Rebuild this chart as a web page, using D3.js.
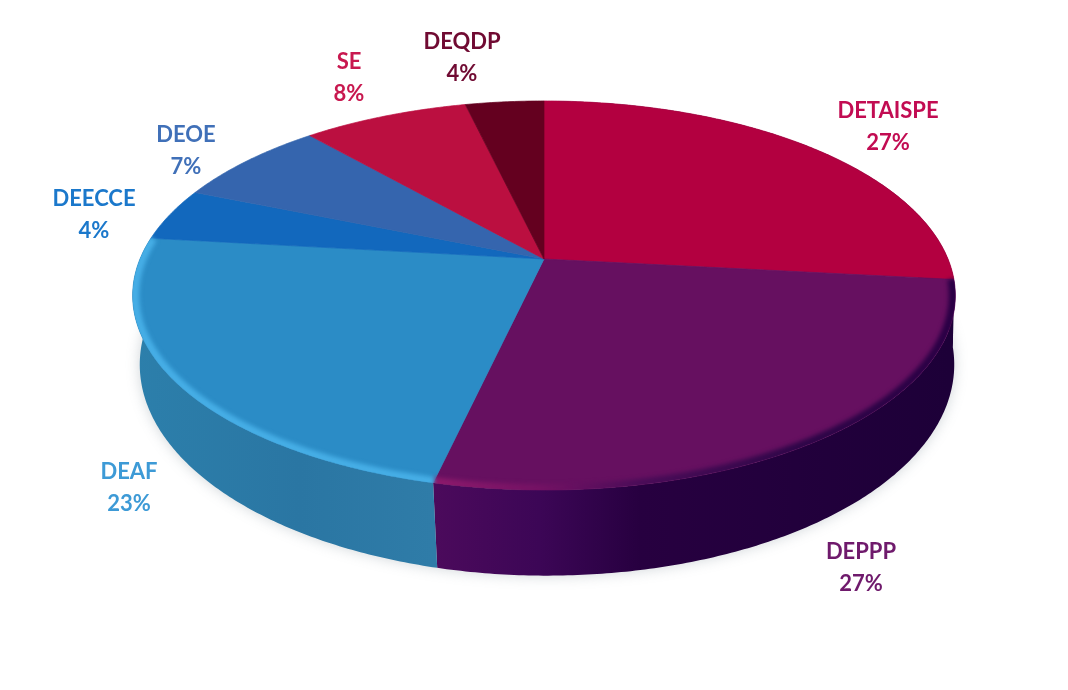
<!DOCTYPE html>
<html>
<head>
<meta charset="utf-8">
<script src="https://cdn.jsdelivr.net/npm/d3@7"></script>
<style>
  html, body { margin: 0; padding: 0; background: #fff; }
  svg { display: block; }
  text { font-family: Lato, "Open Sans", sans-serif; font-weight: 700; font-size: 22px; text-anchor: middle; }
</style>
</head>
<body>
<div id="chart"></div>
<script>
document.addEventListener("DOMContentLoaded", function() {
    // Data (printed labels are these rounded)
    var categories = ["DETAISPE", "DEPPP", "DEAF", "DEECCE", "DEOE", "SE", "DEQDP"];
    var values = [26.7, 26.9, 23.2, 4.4, 7.3, 7.8, 3.7];

    // Colours per slice
    var topColors = ["#b30040", "#661060", "#2b8cc6", "#1268bd", "#3565ae", "#bb0f40", "#64001f"];
    var labelColors = ["#c20c52", "#6f1a6c", "#3d9ad6", "#1b78cb", "#4070b8", "#c8184f", "#700a32"];

    // Label centres, first line
    var labelX = [888, 861, 129, 94, 186, 349, 462];
    var labelY = [110, 551, 471, 198, 134, 61, 41];

    var w = 1068;
    var h = 690;

    // Tilted disc: perspective projection of a unit circle
    var k = 0.1877;
    var topFace = { cx: 544, cy: 259, a: 404, b: 187.7 };
    var baseFace = { cx: 547, cy: 325, a: 400, b: 203.6 };

    function project(face, angle, r) {
        var X = r * Math.sin(angle);
        var Y = -r * Math.cos(angle);
        var d = 1 - k * Y;
        return [face.cx + face.a * X / d, face.cy + face.b * Y / d];
    }

    function rimPoints(face, a0, a1, r) {
        var n = Math.max(2, Math.ceil((a1 - a0) / 0.01));
        return d3.range(n + 1).map(function(i) {
            return project(face, a0 + (a1 - a0) * i / n, r);
        });
    }

    var line = d3.line();

    var pie = d3.pie().sort(null);
    var arcs = pie(values);
    var pct = d3.format(".0f");

    var svg = d3.select("#chart")
        .append("svg")
        .attr("width", w)
        .attr("height", h);

    var defs = svg.append("defs");

    function addBlur(id, sd) {
        defs.append("filter")
            .attr("id", id)
            .attr("x", "-20%").attr("y", "-20%")
            .attr("width", "140%").attr("height", "140%")
            .attr("color-interpolation-filters", "sRGB")
            .append("feGaussianBlur")
            .attr("stdDeviation", sd);
    }
    addBlur("scan", 0.55);
    addBlur("soft", 2);
    addBlur("shadow", 7);

    function addGradient(id, stops) {
        var g = defs.append("linearGradient")
            .attr("id", id)
            .attr("gradientUnits", "userSpaceOnUse")
            .attr("x1", 130).attr("x2", 960)
            .attr("y1", 0).attr("y2", 0);
        stops.forEach(function(s) {
            g.append("stop").attr("offset", (s[0] - 130) / 830).attr("stop-color", s[1]);
        });
    }
    addGradient("wallPurple", [[430, "#4c0a5c"], [540, "#3c0656"], [640, "#270040"], [950, "#1d0038"]]);
    addGradient("wallBlue", [[135, "#2c7fab"], [300, "#2a76a3"], [432, "#2f7ca8"]]);
    addGradient("bevelPurple", [[430, "#8e1a6c"], [540, "#741264"], [640, "#4a0c58"], [800, "#2e0648"], [955, "#2a0045"]]);

    defs.append("clipPath")
        .attr("id", "topClip")
        .append("path")
        .attr("d", line(rimPoints(topFace, 0, 2 * Math.PI, 1)) + "Z");

    var wallFill = { 0: "#1d0038", 1: "url(#wallPurple)", 2: "url(#wallBlue)" };
    var bevelFill = { 1: "url(#bevelPurple)", 2: "#46aee6" };

    var pie3d = svg.append("g").attr("filter", "url(#scan)");

    // Soft shadow under the disc
    pie3d.append("path")
        .attr("d", line(rimPoints(baseFace, 0, 2 * Math.PI, 1)) + "Z")
        .attr("fill", "#8a97a0")
        .attr("opacity", 0.4)
        .attr("filter", "url(#shadow)");

    // Side walls of the slices facing the viewer
    pie3d.selectAll("path.wall")
        .data(arcs.filter(function(d) { return wallFill[d.index]; }))
        .enter()
        .append("path")
        .attr("class", "wall")
        .attr("d", function(d) {
            var outer = rimPoints(topFace, d.startAngle, d.endAngle, 1);
            var inner = rimPoints(baseFace, d.startAngle, d.endAngle, 1).reverse();
            return line(outer.concat(inner)) + "Z";
        })
        .attr("fill", function(d) { return wallFill[d.index]; });

    // Top faces
    pie3d.selectAll("path.slice")
        .data(arcs)
        .enter()
        .append("path")
        .attr("class", "slice")
        .attr("d", function(d) {
            var pts = rimPoints(topFace, d.startAngle, d.endAngle, 1);
            pts.unshift([topFace.cx, topFace.cy]);
            return line(pts) + "Z";
        })
        .attr("fill", function(d) { return topColors[d.index]; })
        .attr("stroke", function(d) { return topColors[d.index]; })
        .attr("stroke-width", 0.7);

    // Rounded rim highlight, kept inside the top face
    pie3d.append("g")
        .attr("clip-path", "url(#topClip)")
        .selectAll("path.bevel")
        .data(arcs.filter(function(d) { return bevelFill[d.index]; }))
        .enter()
        .append("path")
        .attr("class", "bevel")
        .attr("d", function(d) {
            return line(rimPoints(topFace, d.startAngle, d.endAngle, 0.995));
        })
        .attr("fill", "none")
        .attr("stroke", function(d) { return bevelFill[d.index]; })
        .attr("stroke-width", 9)
        .attr("filter", "url(#soft)");

    // Labels: name and percentage
    var labels = svg.append("g").attr("filter", "url(#scan)")
        .selectAll("g")
        .data(arcs)
        .enter()
        .append("g")
        .attr("fill", function(d) { return labelColors[d.index]; });

    labels.append("text")
        .attr("x", function(d) { return labelX[d.index]; })
        .attr("y", function(d) { return labelY[d.index] + 8; })
        .text(function(d) { return categories[d.index]; });

    labels.append("text")
        .attr("x", function(d) { return labelX[d.index]; })
        .attr("y", function(d) { return labelY[d.index] + 40; })
        .text(function(d) { return pct(d.value) + "%"; });
});
</script>
</body>
</html>
